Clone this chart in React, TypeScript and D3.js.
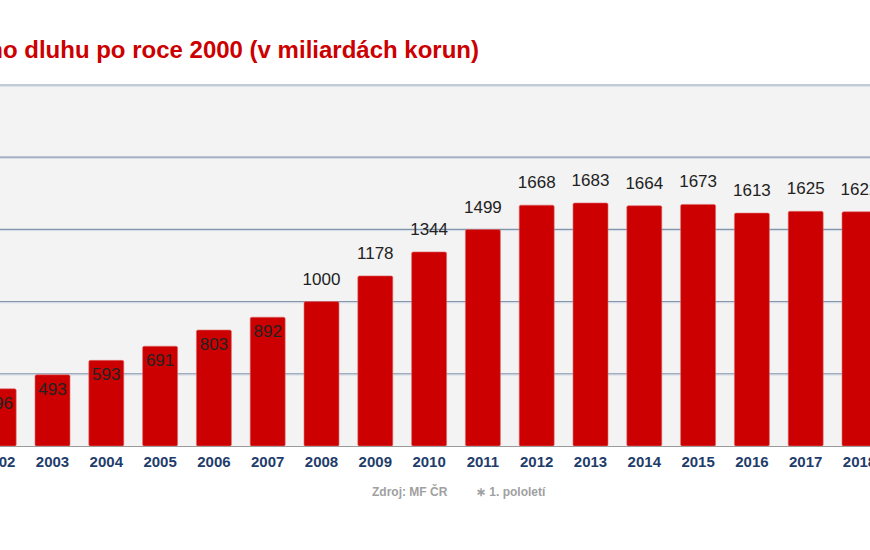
import React, { FC, useMemo } from 'react'
import * as d3 from 'd3'

// years visible in the crop (2002 and 2018 are cut by the frame)
const years = ['2002', '2003', '2004', '2005', '2006', '2007', '2008', '2009', '2010', '2011', '2012', '2013', '2014', '2015', '2016', '2017', '2018']
const debt = [396, 493, 593, 691, 803, 892, 1000, 1178, 1344, 1499, 1668, 1683, 1664, 1673, 1613, 1625, 1622]
const gridTicks = [500, 1000, 1500, 2000, 2500]
// labels that fit inside the bar
const insideYears = ['2002', '2003', '2004', '2005', '2006', '2007']

const W = 870
const H = 550
const plotTop = 85
const plotBottom = 446

const App: FC = () => {
	const x = useMemo(() => {
		return d3
			.scaleBand<string>()
			.domain(years)
			.range([-28.2, 886.4])
			.paddingInner(0.35)
			.paddingOuter(0.175)
	}, [])

	const y = useMemo(() => {
		return d3.scaleLinear().domain([0, 2500]).range([plotBottom, plotTop])
	}, [])

	const font = '"Liberation Sans", Arial, sans-serif'

	return (
		<svg
			width={W}
			height={H}
			style={{ position: 'absolute', left: 0, top: 0, background: '#fff' }}
		>
			{/* titulek */}
			<text
				x={479}
				y={58}
				textAnchor="end"
				fontFamily={font}
				fontWeight="bold"
				fontSize={24}
				fill="#cc0000"
			>
				Vývoj státního dluhu po roce 2000 (v miliardách korun)
			</text>

			{/* pozadí grafu */}
			<rect x={0} y={plotTop} width={W} height={plotBottom - plotTop} fill="#f3f3f3" />

			{/* mřížka */}
			<g>
				{gridTicks.map((t) => (
					<g key={t}>
						<line x1={0} x2={W} y1={y(t)} y2={y(t)} stroke="#8396ad" strokeWidth={1.2} />
						<line x1={0} x2={W} y1={y(t) + 1.2} y2={y(t) + 1.2} stroke="#d3dbe5" strokeWidth={1} />
					</g>
				))}
			</g>

			{/* sloupce */}
			<g>
				{years.map((yr, i) => (
					<rect
						key={yr}
						x={x(yr)}
						y={y(debt[i])}
						width={x.bandwidth()}
						height={plotBottom - y(debt[i])}
						fill="#cc0000"
						stroke="#e06a6a"
						strokeWidth={0.6}
						rx={1.5}
					/>
				))}
			</g>

			{/* osa x */}
			<line x1={0} x2={W} y1={plotBottom + 0.5} y2={plotBottom + 0.5} stroke="#9a9a9a" strokeWidth={1} />

			{/* hodnoty */}
			<g fontFamily={font} fontSize={17} fill="#222" textAnchor="middle">
				{years.map((yr, i) => {
					const inside = insideYears.includes(yr)
					return (
						<text
							key={yr}
							x={(x(yr) || 0) + x.bandwidth() / 2}
							y={inside ? y(debt[i]) + 20 : y(debt[i]) - 17}
						>
							{debt[i]}
						</text>
					)
				})}
			</g>

			{/* popisky let */}
			<g fontFamily={font} fontSize={15} fontWeight="bold" fill="#1f3d6b" textAnchor="middle">
				{years.map((yr) => (
					<text key={yr} x={(x(yr) || 0) + x.bandwidth() / 2} y={467}>
						{yr}
					</text>
				))}
			</g>

			{/* zdroj */}
			<g fontFamily={font} fontSize={12} fontWeight="bold" fill="#a0a0a0">
				<text x={372} y={496}>Zdroj: MF ČR</text>
				<text x={476} y={496}>∗ 1. pololetí</text>
			</g>
		</svg>
	)
}

export default App
